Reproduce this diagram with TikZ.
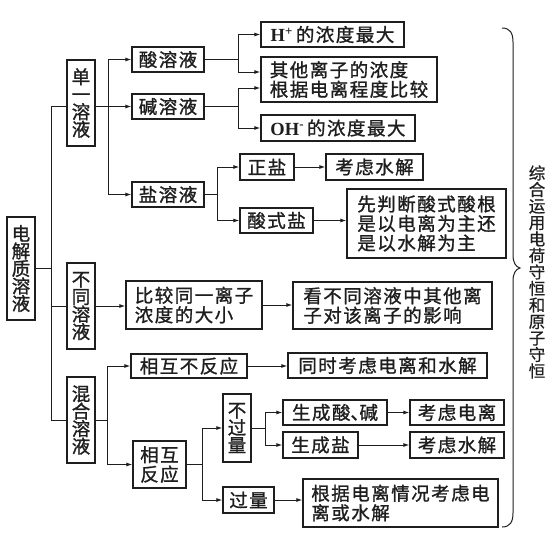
\documentclass[tikz,border=0pt]{standalone}
\usepackage{fontspec}
\setmainfont{Liberation Serif}
\newfontfamily\cjk{Noto Sans CJK SC}[LetterSpace=8,FakeBold=1.2]
\newfontfamily\cjkv{Noto Sans CJK SC}[FakeBold=1.2]
\newfontfamily\cjkn{Noto Sans CJK SC}[FakeBold=0.6]
\usetikzlibrary{arrows.meta,calc}
\definecolor{ink}{HTML}{1E1E1E}
\tikzset{
  box/.style={draw=ink, text=ink, line width=1.2pt, inner sep=0pt, align=center,
    font=\cjk\fontsize{18.5}{19.5}\selectfont},
  lbox/.style={box, align=left},
  vbox/.style={box, font=\cjkv\fontsize{18.5}{17.5}\selectfont},
  ln/.style={draw=ink, line width=1pt},
  arr/.style={ln, -{Latex[length=6pt,width=4pt]}},
}
\begin{document}
\begin{tikzpicture}[x=1pt,y=-1pt]
\useasboundingbox (0,0) rectangle (558,536);
% level 0 / 1
\node[vbox, minimum width=28, minimum height=103] (dj) at (21,268.5) {电\\解\\质\\溶\\液};
\node[vbox, minimum width=28, minimum height=86] (dy) at (81,103) {单\\一\\溶\\液};
\node[vbox, minimum width=28, minimum height=86] (bt) at (81,306) {不\\同\\溶\\液};
\node[vbox, minimum width=28, minimum height=86] (hh) at (81,420) {混\\合\\溶\\液};
% single solution
\node[box, minimum width=72, minimum height=25] (suan) at (168,59.5) {酸溶液};
\node[box, minimum width=72, minimum height=25] (jian) at (168,106.5) {碱溶液};
\node[box, minimum width=72, minimum height=25] (yan) at (168,194.5) {盐溶液};
\node[box, minimum width=143, minimum height=25] (hplus) at (332.5,34.5) {{\rmfamily\bfseries H\textsuperscript{+}}\hspace{3pt}的浓度最大};
\node[lbox, minimum width=176, minimum height=45] (qita) at (349,79.5) {其他离子的浓度\\根据电离程度比较};
\node[box, minimum width=154, minimum height=26] (oh) at (338,128) {{\rmfamily\bfseries OH\textsuperscript{-}}\hspace{3pt}的浓度最大};
\node[box, minimum width=54, minimum height=26] (zy) at (267,167) {正盐};
\node[box, minimum width=97, minimum height=26] (ks1) at (374.5,167) {考虑水解};
\node[box, minimum width=73, minimum height=25] (ss) at (276.5,220.5) {酸式盐};
\node[lbox, minimum width=159, minimum height=69] (xpd) at (426.5,223.5) {先判断酸式酸根\\是以电离为主还\\是以水解为主};
% different solutions
\node[lbox, minimum width=136, minimum height=48] (bj) at (194,305) {比较同一离子\\浓度的大小};
\node[lbox, minimum width=199, minimum height=47] (kb) at (392.5,305.5) {看不同溶液中其他离\\子对该离子的影响};
% mixed solutions
\node[box, minimum width=116, minimum height=24] (xbf) at (189,366) {相互不反应};
\node[box, minimum width=199, minimum height=25] (tskl) at (387.5,365.5) {同时考虑电离和水解};
\node[box, minimum width=53, minimum height=47] (xhfy) at (159.5,464.5) {相互\\反应};
\node[vbox, minimum width=28, minimum height=68] (bgl) at (237,428) {不\\过\\量};
\node[box, minimum width=51, minimum height=26] (gl) at (248.5,500) {过量};
\node[box, minimum width=104, minimum height=25] (scsj) at (335,412.5) {生成酸\makebox[9pt][l]{、}碱};
\node[box, minimum width=75, minimum height=26] (scy) at (320.5,445) {生成盐};
\node[box, minimum width=94, minimum height=25] (kdl) at (457,412.5) {考虑电离};
\node[box, minimum width=94, minimum height=26] (ks2) at (457,445) {考虑水解};
\node[lbox, minimum width=195, minimum height=48] (gj) at (400.5,503) {根据电离情况考虑电\\离或水解};
% right note
\node[text=ink, inner sep=0pt, align=center, font=\cjkn\fontsize{16.5}{16.5}\selectfont] (note) at (537,272)
  {综\\合\\运\\用\\电\\荷\\守\\恒\\和\\原\\子\\守\\恒};
% split coordinates
\coordinate (t0) at (51,268.5);
\coordinate (s2) at (108,106.5);
\coordinate (sa) at (238,59.5);
\coordinate (sb) at (238,106.5);
\coordinate (sc) at (217,194.5);
\coordinate (sm) at (107,420);
\coordinate (sr) at (202,464.5);
\coordinate (sn) at (265,428);
\coordinate (q1) at ($(qita.west)+(0,-7.5)$);
\coordinate (q2) at ($(qita.west)+(0,8.5)$);
% trunk
\draw[ln] (dj.east) -- (t0);
\draw[ln] (t0 |- jian) -- (t0 |- hh);
\draw[ln] (t0 |- jian) -- (dy.west |- jian);
\draw[ln] (t0 |- bt) -- (bt.west);
\draw[ln] (t0 |- hh) -- (hh.west);
% single
\draw[arr] (dy.east |- jian) -- (jian.west);
\draw[arr] (s2) |- (suan.west);
\draw[arr] (s2) |- (yan.west);
\draw[ln] (suan.east) -- (sa);
\draw[arr] (sa) |- (hplus.west);
\draw[arr] (sa) |- (q1);
\draw[ln] (jian.east) -- (sb);
\draw[arr] (sb) |- (q2);
\draw[arr] (sb) |- (oh.west);
\draw[ln] (yan.east) -- (sc);
\draw[arr] (sc) |- (zy.west);
\draw[arr] (sc) |- (ss.west);
\draw[arr] (zy.east) -- (ks1.west);
\draw[arr] (ss.east) -- (ss.east -| xpd.west);
% different
\draw[arr] (bt.east) -- (bt.east -| bj.west);
\draw[arr] (bj.east) -- (bj.east -| kb.west);
% mixed
\draw[ln] (hh.east) -- (sm);
\draw[arr] (sm) |- (xbf.west);
\draw[arr] (sm) |- (xhfy.west);
\draw[arr] (xbf.east) -- (xbf.east -| tskl.west);
\draw[ln] (xhfy.east) -- (sr);
\draw[arr] (sr) |- (bgl.west);
\draw[arr] (sr) |- (gl.west);
\draw[ln] (bgl.east) -- (sn);
\draw[arr] (sn) |- (scsj.west);
\draw[arr] (sn) |- (scy.west);
\draw[arr] (scsj.east) -- (kdl.west);
\draw[arr] (scy.east) -- (scy.east -| ks2.west);
\draw[arr] (gl.east) -- (gl.east -| gj.west);
% brace
\draw[ln] (502,28) .. controls (510,28) and (513,33) .. (513,42) -- (513,255)
  .. controls (513,263) and (516,267) .. (520,268)
  .. controls (516,269) and (513,273) .. (513,281) -- (513,513)
  .. controls (513,522) and (510,527) .. (502,527);
\end{tikzpicture}
\end{document}
